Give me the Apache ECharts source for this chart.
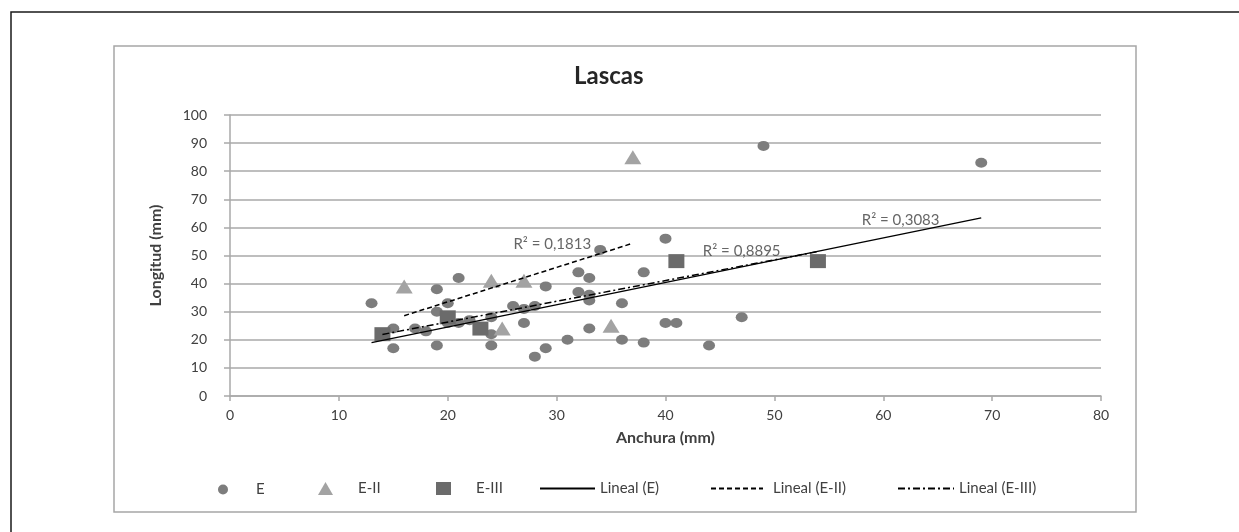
<!DOCTYPE html>
<html><head><meta charset="utf-8">
<script src="https://cdn.jsdelivr.net/npm/echarts@6/dist/echarts.min.js"></script>
<style>html,body{margin:0;padding:0;background:#fff}#c{width:1239px;height:532px}</style>
</head><body><div id="c"></div>
<script>
// ---- data ----
const eX = [13,15,15,17,18,19,19,19,20,20,21,21,22,24,24,24,26,27,27,28,28,29,29,31,32,32,33,33,33,33,34,36,36,38,38,40,40,41,44,47,49,69];
const eY = [33,24,17,24,23,38,30,18,33,26,42,26,27,28,22,18,32,31,26,32,14,39,17,20,44,37,42,36,34,24,52,33,20,44,19,56,26,26,18,28,89,83];
const e2X = [16,24,27,25,35,37];
const e2Y = [39,41,41,24,25,85];
const e3X = [14,20,23,41,54];
const e3Y = [22,28,24,48,48];
const seriesNames = ['E','E-II','E-III'];
const trendNames = ['Lineal (E)','Lineal (E-II)','Lineal (E-III)'];
const r2Texts = ['R² = 0,3083','R² = 0,1813','R² = 0,8895'];
const xTicks = [0,10,20,30,40,50,60,70,80];
const yTicks = [0,10,20,30,40,50,60,70,80,90,100];

// ---- helpers ----
function pairs(xs, ys){ return xs.map((x,i)=>[x, ys[i]]); }
function fit(xs, ys){
  const n = xs.length;
  const mx = xs.reduce((a,b)=>a+b,0)/n, my = ys.reduce((a,b)=>a+b,0)/n;
  let sxy=0, sxx=0;
  for(let i=0;i<n;i++){ sxy+=(xs[i]-mx)*(ys[i]-my); sxx+=(xs[i]-mx)*(xs[i]-mx); }
  const b = sxy/sxx, a = my-b*mx;
  const x0 = Math.min(...xs), x1 = Math.max(...xs);
  return {a, b, x0, x1, line:[[x0, a+b*x0],[x1, a+b*x1]]};
}
const fE = fit(eX,eY), f2 = fit(e2X,e2Y), f3 = fit(e3X,e3Y);
// R² label anchors: offset from trendline end, as Excel places them
const labelPts = [
  [fE.x1-7.4, fE.a+fE.b*(fE.x1-7.4)+5.2, r2Texts[0]],
  [f2.x1-7.4, f2.a+f2.b*(f2.x1-7.4)+8.6, r2Texts[1]],
  [f3.x1-7.0, f3.a+f3.b*(f3.x1-7.0)+5.3, r2Texts[2]]
];

const FONT = 'Lato';
const txt = '#404040';
const gridCol = '#a9a9a9';
const clear = 'rgba(0,0,0,0)';

const chart = echarts.init(document.getElementById('c'), null, {renderer:'canvas'});
function legendAt(name, left, w, h, pad, top, hideSym){
  const l = {
    data:[name], left:left, top:top, itemWidth:w, itemHeight:h, padding:0,
    itemGap:0, selectedMode:false,
    textStyle:{fontFamily:FONT, fontSize:15, color:txt, padding:[0,0,0,pad]}
  };
  if(hideSym){ l.itemStyle = {color:clear, borderColor:clear, borderWidth:0, opacity:0}; }
  return l;
}
chart.setOption({
  animation:false,
  backgroundColor:'#fff',
  title:{text:'Lascas', left:574, top:64, padding:0,
    textStyle:{fontFamily:FONT, fontSize:24, fontWeight:'bold', color:'#262626'}},
  graphic:[
    {type:'rect', silent:true, z:-10, shape:{x:11,y:12,width:1260,height:560},
      style:{fill:'none', stroke:'#1a1a1a', lineWidth:1.5}},
    {type:'rect', silent:true, z:-10, shape:{x:114,y:46,width:1022,height:466},
      style:{fill:'none', stroke:'#a6a6a6', lineWidth:1.5}}
  ],
  grid:{left:230, right:138, top:115, bottom:136},
  xAxis:{
    type:'value', min:xTicks[0], max:xTicks[xTicks.length-1], interval:10,
    name:'Anchura (mm)', nameLocation:'middle', nameGap:34,
    nameTextStyle:{fontFamily:FONT, fontSize:16, fontWeight:'bold', color:txt},
    axisLine:{show:true, onZero:false, lineStyle:{color:gridCol, width:1.5}},
    axisTick:{show:true, length:5, lineStyle:{color:gridCol, width:1.5}},
    axisLabel:{fontFamily:FONT, fontSize:14, color:txt, margin:12},
    splitLine:{show:false}
  },
  yAxis:{
    type:'value', min:yTicks[0], max:yTicks[yTicks.length-1], interval:10,
    name:'Longitud (mm)', nameLocation:'middle', nameGap:66, nameRotate:90,
    nameTextStyle:{fontFamily:FONT, fontSize:16, fontWeight:'bold', color:txt},
    axisLine:{show:true, onZero:false, lineStyle:{color:gridCol, width:1.5}},
    axisTick:{show:true, inside:false, length:6, lineStyle:{color:gridCol, width:1.5}},
    axisLabel:{fontFamily:FONT, fontSize:14, color:txt, margin:23},
    splitLine:{show:true, lineStyle:{color:gridCol, width:1.5}}
  },
  legend:[
    legendAt(seriesNames[0], 218, 12, 10, 22, 482, false),
    legendAt(seriesNames[1], 318, 15, 13, 20, 481, false),
    legendAt(seriesNames[2], 436, 15, 13, 20, 481, false),
    legendAt(trendNames[0], 539, 55, 14, 0, 481, true),
    legendAt(trendNames[1], 710, 52, 14, 5, 481, true),
    legendAt(trendNames[2], 897, 56, 14, 0, 481, true)
  ],
  series:[
    {name:seriesNames[0], type:'scatter', data:pairs(eX,eY), symbol:'circle', symbolSize:[12,10],
      itemStyle:{color:'#7d7d7d', opacity:1}},
    {name:seriesNames[1], type:'scatter', data:pairs(e2X,e2Y), symbol:'triangle', symbolSize:[17,14],
      itemStyle:{color:'#a3a3a3', opacity:1}},
    {name:seriesNames[2], type:'scatter', data:pairs(e3X,e3Y), symbol:'rect', symbolSize:[16,14],
      itemStyle:{color:'#6b6b6b', opacity:1}},
    {name:trendNames[0], type:'line', data:fE.line, symbol:'none', showSymbol:false,
      lineStyle:{color:'#000', width:1.5, type:'solid'}, itemStyle:{color:'#000'}, z:5},
    {name:trendNames[1], type:'line', data:f2.line, symbol:'none', showSymbol:false,
      lineStyle:{color:'#000', width:1.5, type:[5,3]}, itemStyle:{color:'#000'}, z:5},
    {name:trendNames[2], type:'line', data:f3.line, symbol:'none', showSymbol:false,
      lineStyle:{color:'#000', width:1.5, type:[7,3,2,3]}, itemStyle:{color:'#000'}, z:5},
    {name:'r2', type:'scatter', data:labelPts, symbolSize:0, silent:true, z:6,
      label:{show:true, position:'inside', formatter:p=>p.data[2],
        fontFamily:FONT, fontSize:15, color:txt}}
  ]
});
</script></body></html>
